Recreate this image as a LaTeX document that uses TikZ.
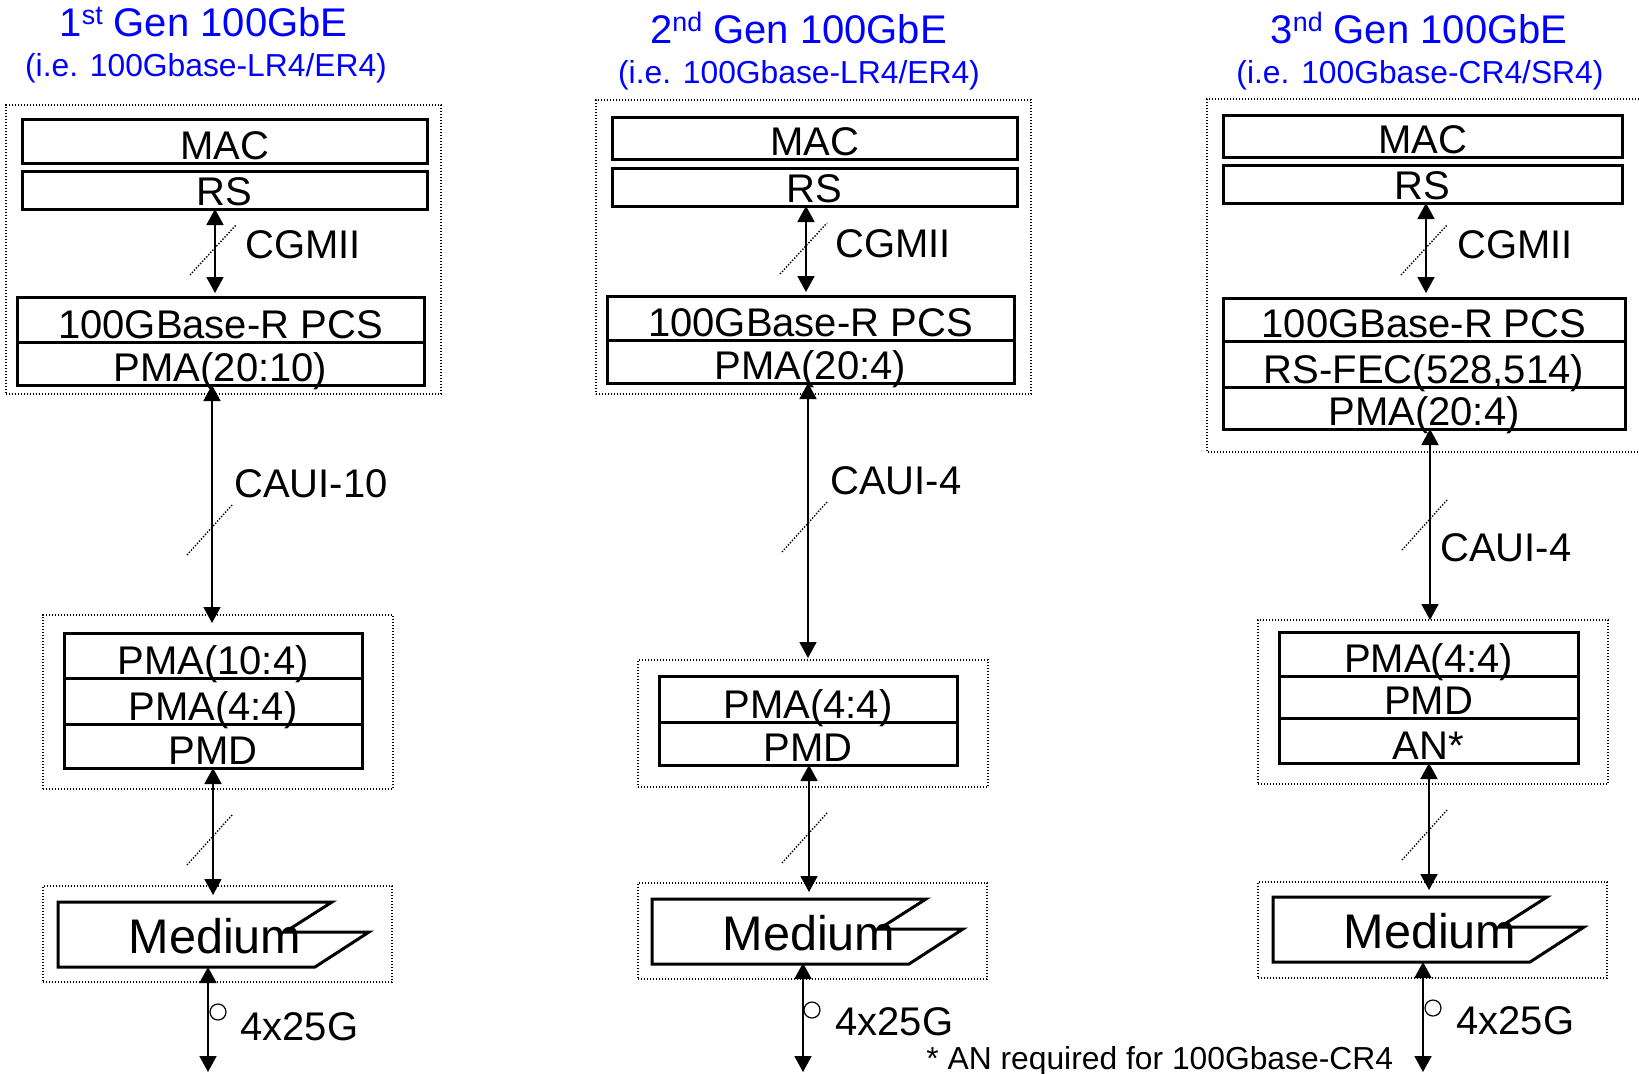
\documentclass[tikz,border=0pt]{standalone}
\usepackage{fontspec}
\setmainfont{Liberation Sans}
\usetikzlibrary{arrows.meta}
\definecolor{ttl}{RGB}{0,0,255}
\tikzset{
  layer/.style={draw, line width=1.5pt, inner sep=0pt, outer sep=0pt, text depth=2pt, font=\fontsize{20}{21}\selectfont},
  dotbox/.style={draw, line width=0.7pt, dash pattern=on 0.7pt off 0.8pt, inner sep=0pt, outer sep=0pt},
  link/.style={line width=0.9pt, {Triangle[length=8pt,width=8.5pt]}-{Triangle[length=8pt,width=8.5pt]}},
  slash/.style={line width=0.7pt, dash pattern=on 0.7pt off 0.8pt},
  medshape/.style={line width=1.5pt, line join=miter},
  lbl/.style={anchor=base west, inner sep=0pt, font=\fontsize{20}{21}\selectfont},
  ttlfont/.style={anchor=base, inner sep=0pt, text=ttl, font=\fontsize{20}{22}\selectfont},
  subfont/.style={anchor=base, inner sep=0pt, text=ttl, font=\fontsize{15.9}{17}\selectfont},
  medtext/.style={anchor=base, inner sep=0pt, font=\fontsize{24.3}{26}\selectfont},
  ring/.style={draw, circle, line width=0.6pt, minimum size=8pt, inner sep=0pt},
  notefont/.style={anchor=base west, inner sep=0pt, font=\fontsize{15.9}{17}\selectfont},
}
\newcommand\lay[6]{\pgfmathsetmacro\laywd{(#4-#2)/2}\pgfmathsetmacro\layht{(#5-#3)/2-2}%
  \node[layer, minimum width=\laywd pt, text height=\layht pt] (#1) at ({(#2+#4)/2},{(#3+#5)/2}) {#6};}
\newcommand\dbx[5]{\pgfmathsetmacro\laywd{(#4-#2)/2}\pgfmathsetmacro\layht{(#5-#3)/2}%
  \node[dotbox, minimum width=\laywd pt, minimum height=\layht pt] (#1) at ({(#2+#4)/2},{(#3+#5)/2}) {};}
\newcommand\medium[3]{%
  \draw[medshape] (#2,#3) -- (#2+274,#3) -- (#2+227,#3+30) -- (#2+311,#3+30) -- (#2+257,#3+65) -- (#2,#3+65) -- cycle;
  \node[medtext] (#1) at (#2+157,#3+51) {Medium};}
\newcommand\supr[1]{\raisebox{6pt}{\fontsize{13.4}{14}\selectfont #1}}
\begin{document}
\begin{tikzpicture}[x=0.5pt,y=-0.5pt]
\useasboundingbox (0,0) rectangle (1639,1073);
% ---------- column 1 ----------
\node[ttlfont] (t1) at (203.5,36) {1\supr{st} Gen 100GbE};
\node[subfont] (s1) at (206,76) {(i.e. 100Gbase-LR4/ER4)};
\dbx{c1top}{6}{105}{441}{394}
\lay{c1mac}{22}{119}{427}{163}{MAC}
\lay{c1rs}{22}{171}{427}{209}{RS}
\lay{c1pcs}{17}{297}{424}{342}{100GBase-R PCS}
\lay{c1pma}{17}{342}{424}{385}{PMA(20:10)}
\dbx{c1mid}{43}{615}{393}{789}
\lay{c1pmaa}{64}{633}{362}{678}{PMA(10:4)}
\lay{c1pmab}{64}{678}{362}{724}{PMA(4:4)}
\lay{c1pmd}{64}{724}{362}{768}{PMD}
\dbx{c1low}{43}{886}{392}{982}
\medium{c1med}{58}{902}
\coordinate (c1mt) at (213,902);
\coordinate (c1mb) at (208,967);
\coordinate (c1end) at (208,1072);
\node[lbl] (l1a) at (245,258) {CGMII};
\node[lbl] (l1b) at (234,497) {CAUI-10};
\node[lbl] (l1c) at (240,1040) {4x25G};
\node[ring] (r1) at (218,1012) {};
\draw[link, shorten >=2pt] (c1rs.south -| 215,0) -- (c1pcs.north -| 215,0);
\draw[link, shorten >=5pt] (c1pma.south -| 212,0) -- (c1pmaa.north -| 212,0);
\draw[link, shorten >=3.5pt] (c1pmd.south -| 213,0) -- (c1mt);
\draw[link] (c1mb) -- (c1end);
\draw[slash] (190,275) -- (236,225);
\draw[slash] (187,555) -- (232,505);
\draw[slash] (187,865) -- (232,815);
% ---------- column 2 ----------
\node[ttlfont] (t2) at (798.5,43) {2\supr{nd} Gen 100GbE};
\node[subfont] (s2) at (799,83) {(i.e. 100Gbase-LR4/ER4)};
\dbx{c2top}{596}{100}{1031}{394}
\lay{c2mac}{612}{117}{1017}{159}{MAC}
\lay{c2rs}{612}{168}{1017}{206}{RS}
\lay{c2pcs}{607}{296}{1014}{340}{100GBase-R PCS}
\lay{c2pma}{607}{340}{1014}{383}{PMA(20:4)}
\dbx{c2mid}{638}{660}{988}{787}
\lay{c2pmab}{659}{676}{957}{722}{PMA(4:4)}
\lay{c2pmd}{659}{722}{957}{765}{PMD}
\dbx{c2low}{638}{883}{987}{979}
\medium{c2med}{652}{899}
\coordinate (c2mt) at (809,899);
\coordinate (c2mb) at (803,963);
\coordinate (c2end) at (803,1072);
\node[lbl] (l2a) at (835,257) {CGMII};
\node[lbl] (l2b) at (830,494) {CAUI-4};
\node[lbl] (l2c) at (835,1035) {4x25G};
\node[ring] (r2) at (812,1010) {};
\draw[link, shorten >=2pt] (c2rs.south -| 806,0) -- (c2pcs.north -| 806,0);
\draw[link, shorten >=1pt] (c2pma.south -| 808,0) -- (c2mid.north -| 808,0);
\draw[link, shorten >=3.5pt] (c2pmd.south -| 809,0) -- (c2mt);
\draw[link] (c2mb) -- (c2end);
\draw[slash] (780,274) -- (827,223);
\draw[slash] (782,552) -- (827,502);
\draw[slash] (782,863) -- (828,812);
% ---------- column 3 ----------
\node[ttlfont] (t3) at (1419,43) {3\supr{nd} Gen 100GbE};
\node[subfont] (s3) at (1420,83) {(i.e. 100Gbase-CR4/SR4)};
\draw[line width=0.7pt, dash pattern=on 0.7pt off 0.8pt] (1639,99) -- (1207,99) -- (1207,452) -- (1639,452);
\lay{c3mac}{1223}{115}{1622}{157}{MAC}
\lay{c3rs}{1223}{165}{1622}{203}{RS}
\lay{c3pcs}{1223}{298}{1625}{341}{100GBase-R PCS}
\lay{c3fec}{1223}{341}{1625}{387}{RS-FEC(528,514)}
\lay{c3pma}{1223}{387}{1625}{429}{PMA(20:4)}
\dbx{c3mid}{1258}{620}{1608}{784}
\lay{c3pmab}{1279}{632}{1578}{676}{PMA(4:4)}
\lay{c3pmd}{1279}{676}{1578}{718}{PMD}
\lay{c3an}{1279}{718}{1578}{763}{AN*}
\dbx{c3low}{1258}{882}{1607}{978}
\medium{c3med}{1273}{897}
\coordinate (c3mt) at (1429,897);
\coordinate (c3mb) at (1423,962);
\coordinate (c3end) at (1423,1072);
\node[lbl] (l3a) at (1457,258) {CGMII};
\node[lbl] (l3b) at (1440,561) {CAUI-4};
\node[lbl] (l3c) at (1456,1034) {4x25G};
\node[ring] (r3) at (1433,1008) {};
\draw[link, shorten >=2.5pt] (c3rs.south -| 1426,0) -- (c3pcs.north -| 1426,0);
\draw[link] (c3pma.south -| 1430,0) -- (c3mid.north -| 1430,0);
\draw[link, shorten >=3.5pt] (c3an.south -| 1429,0) -- (c3mt);
\draw[link] (c3mb) -- (c3end);
\draw[slash] (1401,275) -- (1447,225);
\draw[slash] (1402,550) -- (1447,500);
\draw[slash] (1402,860) -- (1447,810);
% ---------- footnote ----------
\node[notefont] (note) at (926,1069) {* AN required for 100Gbase-CR4};
\end{tikzpicture}
\end{document}
